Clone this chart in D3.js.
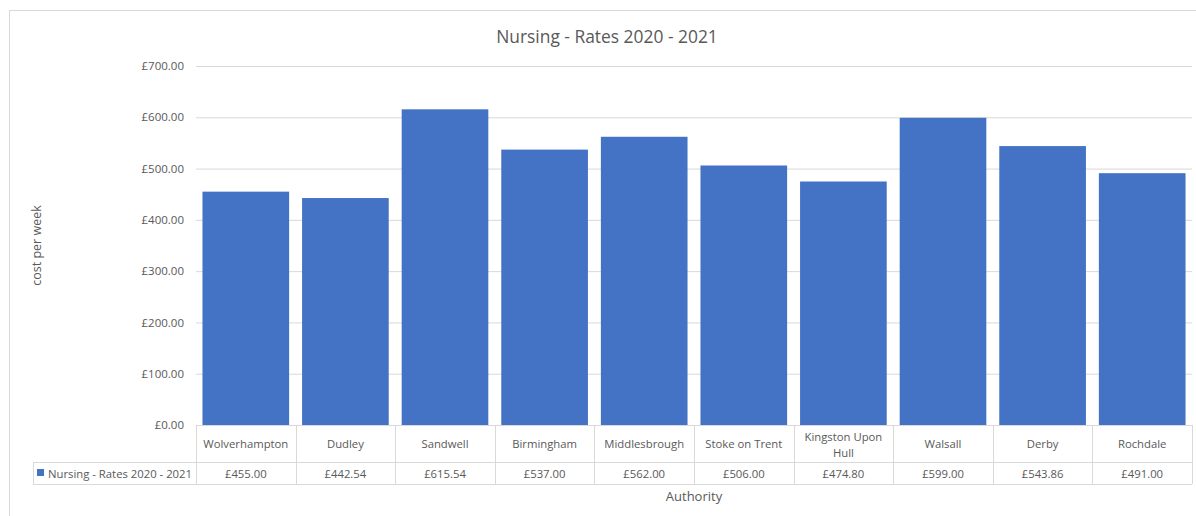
<!DOCTYPE html>
<html><head><meta charset="utf-8">
<script src="https://cdn.jsdelivr.net/npm/d3@7"></script>
<style>body{margin:0;background:#fff}svg{display:block}text{font-family:"Open Sans",sans-serif;fill:#595959}</style>
</head><body>
<script>
const categories = ["Wolverhampton","Dudley","Sandwell","Birmingham","Middlesbrough","Stoke on Trent","Kingston Upon Hull","Walsall","Derby","Rochdale"];
const values = [455.00,442.54,615.54,537.00,562.00,506.00,474.80,599.00,543.86,491.00];
const yTicks = [0,100,200,300,400,500,600,700];
const seriesName = "Nursing - Rates 2020 - 2021";
const title = "Nursing - Rates 2020 - 2021";
const xTitle = "Authority", yTitle = "cost per week";

const W=1196,H=516;
const svg=d3.select("body").append("svg").attr("width",W).attr("height",H);
svg.append("rect").attr("x",9.5).attr("y",10.5).attr("width",1200).attr("height",520).attr("fill","#fff").attr("stroke","#d9d9d9");

const L=196,R=1192,T=66,B=425;
const x=d3.scaleBand().domain(categories).range([L,R]).paddingInner(0.13).paddingOuter(0.065);
const xc=d3.scaleBand().domain(categories).range([L,R]);
const y=d3.scaleLinear().domain([0,700]).range([B,T]);

const yAxis=svg.append("g").attr("transform",`translate(${L},0)`).call(d3.axisLeft(y).tickValues(yTicks).tickSize(-(R-L)).tickFormat(d=>"£"+d3.format(".2f")(d)));
yAxis.select(".domain").remove();
yAxis.selectAll("line").attr("stroke","#d9d9d9");
yAxis.selectAll("text").attr("x",-12).attr("font-size",11.5).style("font-family","'Open Sans',sans-serif").attr("fill","#595959");

svg.append("g").selectAll("rect").data(values).join("rect")
  .attr("x",(d,i)=>x(categories[i])).attr("width",x.bandwidth())
  .attr("y",d=>y(d)).attr("height",d=>B-y(d)).attr("fill","#4472c4");

// data table
const r1=B,r2=462,r3=484,legL=33;
const g=svg.append("g").attr("stroke","#d9d9d9").attr("fill","none");
g.append("line").attr("x1",L).attr("x2",R).attr("y1",r1+.5).attr("y2",r1+.5);
g.append("line").attr("x1",legL).attr("x2",R).attr("y1",r2+.5).attr("y2",r2+.5);
g.append("line").attr("x1",legL).attr("x2",R).attr("y1",r3+.5).attr("y2",r3+.5);
g.append("line").attr("x1",legL+.5).attr("x2",legL+.5).attr("y1",r2).attr("y2",r3);
categories.forEach(c=>{g.append("line").attr("x1",Math.round(xc(c))+.5).attr("x2",Math.round(xc(c))+.5).attr("y1",r1).attr("y2",r3);});
g.append("line").attr("x1",R+.5).attr("x2",R+.5).attr("y1",r1).attr("y2",r3);

const fs=11.3;
categories.forEach((c,i)=>{
  const cx=xc(c)+xc.bandwidth()/2;
  const words=c==="Kingston Upon Hull"?["Kingston Upon","Hull"]:[c];
  const t=svg.append("text").attr("text-anchor","middle").attr("font-size",fs);
  if(words.length===1) t.append("tspan").attr("x",cx).attr("y",(r1+r2)/2+4).text(words[0]);
  else { t.append("tspan").attr("x",cx).attr("y",(r1+r2)/2-3).text(words[0]); t.append("tspan").attr("x",cx).attr("y",(r1+r2)/2+13).text(words[1]); }
  svg.append("text").attr("x",cx).attr("y",(r2+r3)/2+4.5).attr("text-anchor","middle").attr("font-size",fs).text("£"+d3.format(".2f")(values[i]));
});
svg.append("rect").attr("x",37).attr("y",469).attr("width",7).attr("height",7).attr("fill","#4472c4");
svg.append("text").attr("x",48).attr("y",(r2+r3)/2+4.5).attr("font-size",fs).text(seriesName);

svg.append("text").attr("x",607).attr("y",43).attr("text-anchor","middle").attr("font-size",17.4).text(title);
svg.append("text").attr("x",(L+R)/2).attr("y",501).attr("text-anchor","middle").attr("font-size",13).text(xTitle);
svg.append("text").attr("transform",`translate(41,${(T+B)/2}) rotate(-90)`).attr("text-anchor","middle").attr("font-size",12.5).text(yTitle);
</script>
</body></html>
